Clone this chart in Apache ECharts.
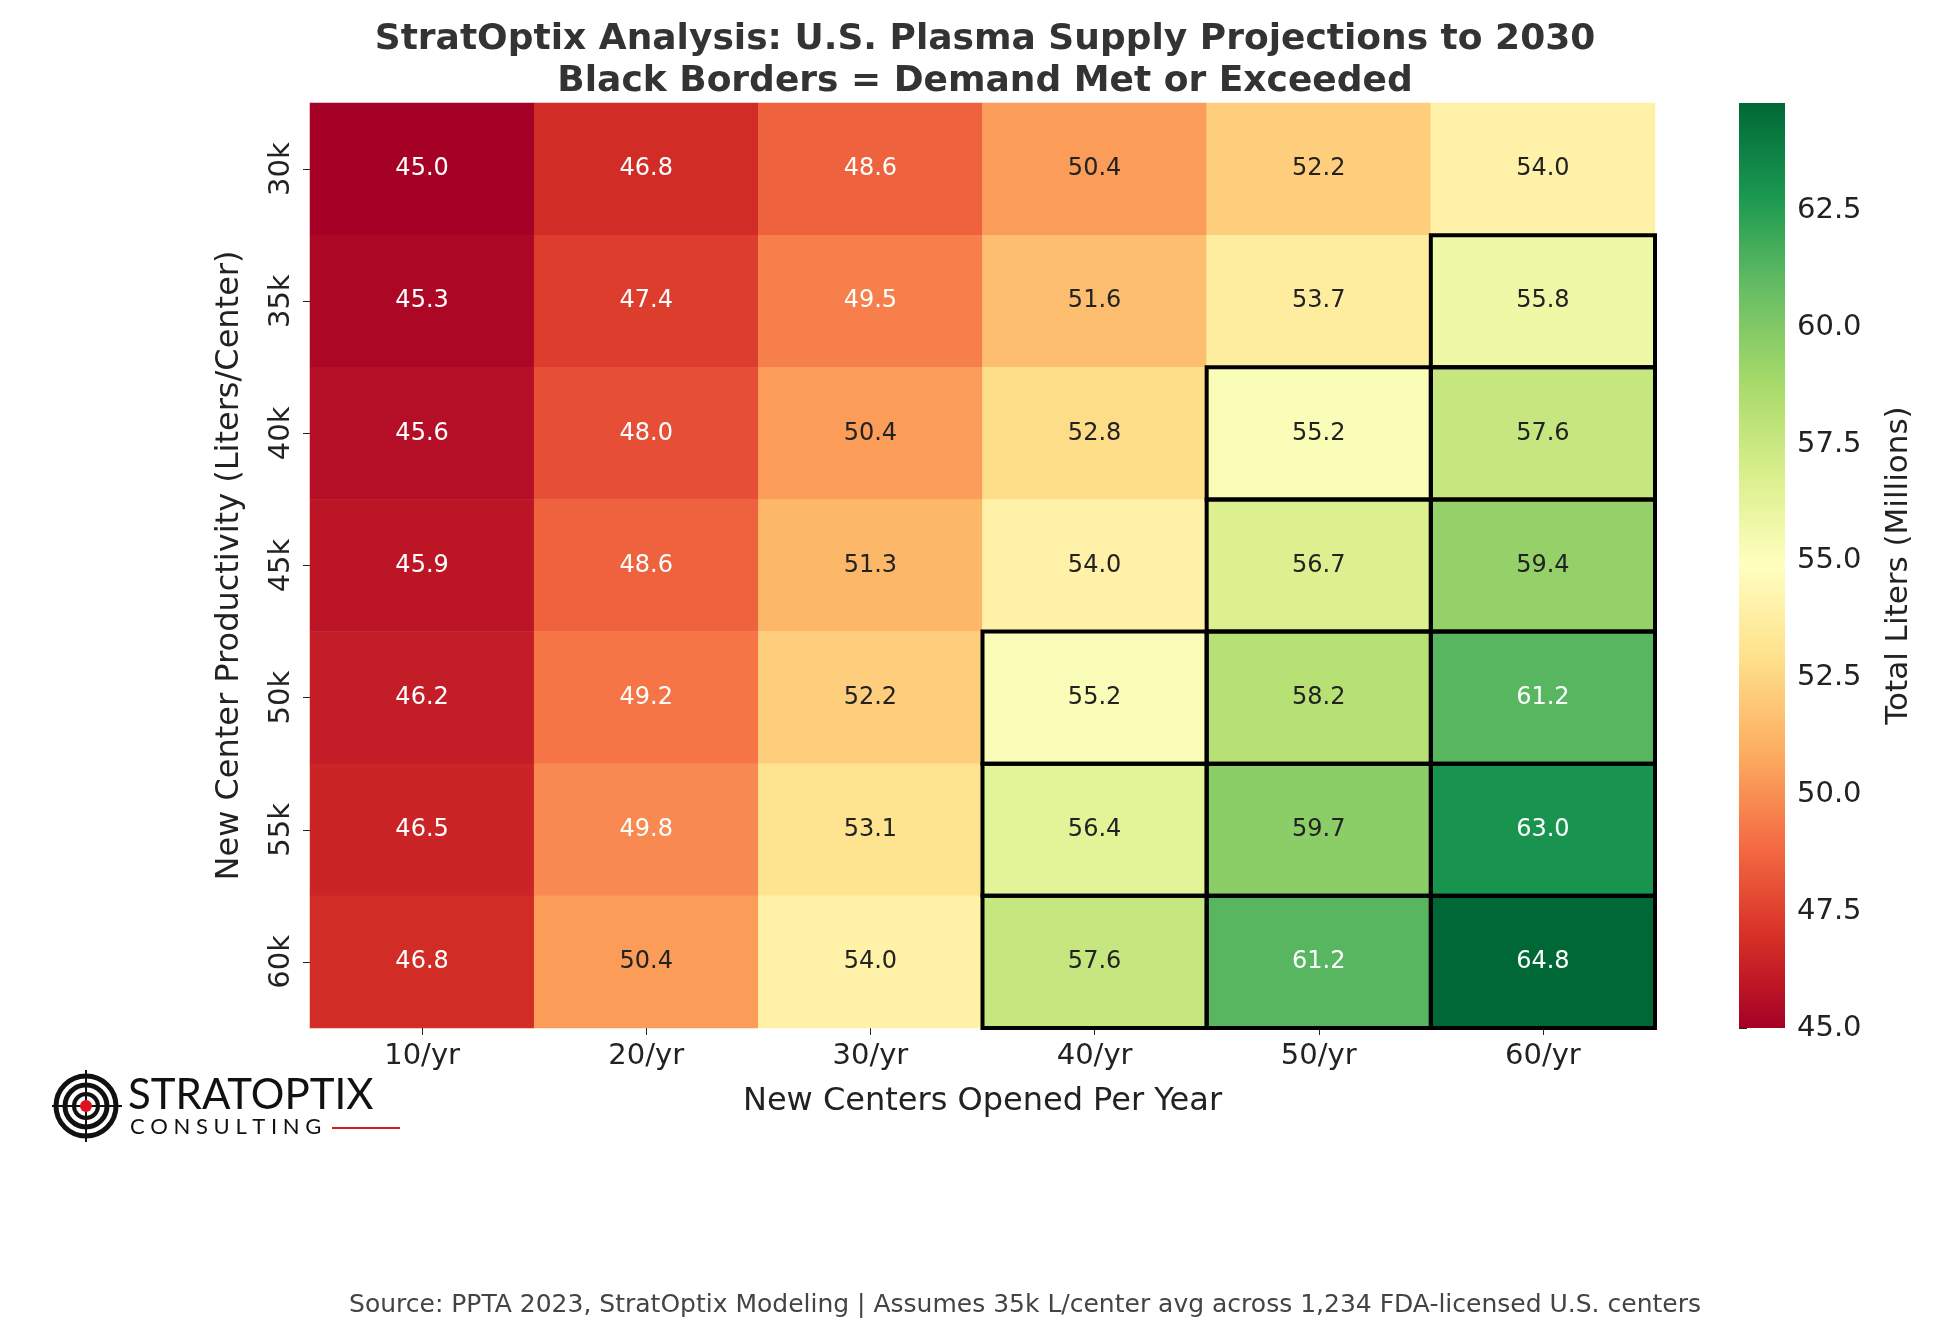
<!DOCTYPE html>
<html><head><meta charset="utf-8">
<script src="https://cdn.jsdelivr.net/npm/echarts@6/dist/echarts.min.js"></script>
<style>html,body{margin:0;background:#fff}#c{width:1935px;height:1336px}</style>
</head><body><div id="c"></div>
<script>
const xCats = ['10/yr','20/yr','30/yr','40/yr','50/yr','60/yr'];
const yCats = ['30k','35k','40k','45k','50k','55k','60k'];
const values = [
  [45.0,46.8,48.6,50.4,52.2,54.0],
  [45.3,47.4,49.5,51.6,53.7,55.8],
  [45.6,48.0,50.4,52.8,55.2,57.6],
  [45.9,48.6,51.3,54.0,56.7,59.4],
  [46.2,49.2,52.2,55.2,58.2,61.2],
  [46.5,49.8,53.1,56.4,59.7,63.0],
  [46.8,50.4,54.0,57.6,61.2,64.8]
];
const demand = 55.0;
const vmin = 45.0, vmax = 64.8;
const palette = ['#a50026','#d73027','#f46d43','#fdae61','#fee08b','#ffffbf','#d9ef8b','#a6d96a','#66bd63','#1a9850','#006837'];

const data = [];
values.forEach((row,i)=>row.forEach((v,j)=>data.push([j,i,v])));
const borderData = data.filter(d=>d[2]>=demand);
const FONT = 'DejaVu Sans';

const chart = echarts.init(document.getElementById('c'));
chart.setOption({
  textStyle:{fontFamily:FONT},
  title:{text:'StratOptix Analysis: U.S. Plasma Supply Projections to 2030\nBlack Borders = Demand Met or Exceeded',
    left:980,top:14,textAlign:'center',
    textStyle:{fontSize:36,fontWeight:'bold',color:'#333',lineHeight:42}},
  grid:[{left:310,top:103,width:1345,height:925},
        {left:1739,top:103,width:46,height:925}],
  xAxis:[{type:'category',data:xCats,gridIndex:0,position:'bottom',
    name:'New Centers Opened Per Year',nameLocation:'middle',nameGap:58,
    nameTextStyle:{fontSize:32,color:'#222'},
    axisLine:{show:false},axisTick:{show:true,alignWithLabel:true,length:7,lineStyle:{color:'#222'}},
    axisLabel:{fontSize:29,color:'#222',margin:14},splitLine:{show:false}},
    {type:'value',gridIndex:1,min:0,max:1,show:false}],
  yAxis:[{type:'category',data:yCats,gridIndex:0,inverse:true,
    name:'New Center Productivity (Liters/Center)',nameLocation:'middle',nameGap:64,
    nameTextStyle:{fontSize:32,color:'#222'},
    axisLine:{show:false},axisTick:{show:true,alignWithLabel:true,length:7,lineStyle:{color:'#222'}},
    axisLabel:{fontSize:29,color:'#222',rotate:90,margin:14},splitLine:{show:false}},
    {type:'value',gridIndex:1,min:vmin,max:vmax,interval:2.5,position:'right',
    name:'Total Liters (Millions)',nameLocation:'middle',nameGap:98,nameRotate:90,
    nameTextStyle:{fontSize:31,color:'#222'},
    axisLine:{show:false},axisTick:{show:true,length:8,lineStyle:{color:'#222'}},
    axisLabel:{fontSize:29,color:'#222',margin:12,formatter:v=>v.toFixed(1),showMaxLabel:false},
    splitLine:{show:false}}],
  visualMap:{show:false,min:vmin,max:vmax,seriesIndex:0,dimension:2,inRange:{color:palette}},
  series:[
    {type:'heatmap',xAxisIndex:0,yAxisIndex:0,
      data:data.map(d=>({value:d,label:{color:(d[2]<50||d[2]>60)?'#fff':'#222'}})),
      label:{show:true,fontSize:24,formatter:p=>p.value[2].toFixed(1)},
      itemStyle:{borderWidth:0}},
    {type:'custom',xAxisIndex:0,yAxisIndex:0,data:borderData,z:10,
      renderItem:(params,api)=>{
        const c=api.coord([api.value(0),api.value(1)]);
        const s=api.size([1,1]);
        return {type:'rect',shape:{x:c[0]-s[0]/2,y:c[1]-s[1]/2,width:s[0],height:s[1]},
          style:{fill:'none',stroke:'#000',lineWidth:4}};
      }},
    {type:'custom',xAxisIndex:1,yAxisIndex:1,data:[[0,vmin,1,vmax]],silent:true,
      renderItem:(params,api)=>{
        const p0=api.coord([api.value(0),api.value(1)]);
        const p1=api.coord([api.value(2),api.value(3)]);
        const stops=palette.map((c,i)=>({offset:i/(palette.length-1),color:c}));
        return {type:'rect',shape:{x:p0[0],y:p1[1],width:p1[0]-p0[0],height:p0[1]-p1[1]},
          style:{fill:new echarts.graphic.LinearGradient(0,1,0,0,stops)}};
      }}
  ],
  graphic:[
    {type:'text',x:1025,y:1293,style:{text:'Source: PPTA 2023, StratOptix Modeling | Assumes 35k L/center avg across 1,234 FDA-licensed U.S. centers',
      align:'center',font:'25px DejaVu Sans',fill:'#444'}},
    {type:'group',x:52,y:1072,children:[
      {type:'circle',shape:{cx:34,cy:34,r:30},style:{fill:'none',stroke:'#111',lineWidth:5}},
      {type:'circle',shape:{cx:34,cy:34,r:21},style:{fill:'none',stroke:'#111',lineWidth:5}},
      {type:'circle',shape:{cx:34,cy:34,r:12},style:{fill:'none',stroke:'#111',lineWidth:4}},
      {type:'line',shape:{x1:0,y1:34,x2:70,y2:34},style:{stroke:'#111',lineWidth:2}},
      {type:'line',shape:{x1:34,y1:-2,x2:34,y2:70},style:{stroke:'#111',lineWidth:2}},
      {type:'circle',shape:{cx:34,cy:34,r:6},style:{fill:'#e0101e'}},
      {type:'text',style:{x:76,y:2,text:'STRATOPTIX',font:'42px Lato',fill:'#111'}},
      {type:'text',style:{x:78,y:44,text:'C O N S U L T I N G',font:'22px Lato',fill:'#111'}},
      {type:'line',shape:{x1:280,y1:56,x2:348,y2:56},style:{stroke:'#d01c24',lineWidth:2}}
    ]}
  ]
});
</script></body></html>
